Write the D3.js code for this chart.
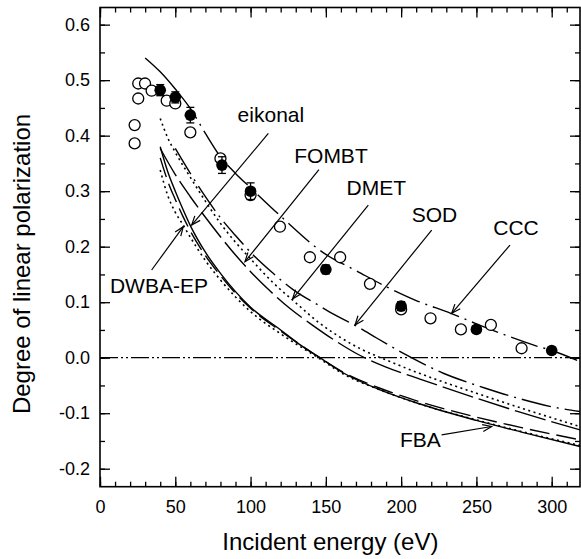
<!DOCTYPE html>
<html lang="en">
<head>
<meta charset="utf-8">
<title>Degree of linear polarization</title>
<script src="https://d3js.org/d3.v7.min.js"></script>
<style>
  body { margin: 0; background: #fff; }
  text { font-family: "Liberation Sans", Arial, Helvetica, sans-serif; fill: #000; }
</style>
</head>
<body>
<div id="chart"></div>
<script>
  // tick values
  var energyTicks = [0, 50, 100, 150, 200, 250, 300];
  var energyMinor = d3.range(0, 320, 10);
  var polTicks = [-0.2, -0.1, 0.0, 0.1, 0.2, 0.3, 0.4, 0.5, 0.6];
  var polMinor = [-0.2, -0.15, -0.1, -0.05, 0, 0.05, 0.1, 0.15, 0.2, 0.25, 0.3, 0.35, 0.4, 0.45, 0.5, 0.55, 0.6];

  // measurements, open circles
  var openE = [23, 23, 25.4, 25.4, 29.9, 34.3, 44.3, 50, 60, 80, 100, 119.5, 139.4, 159.5, 179.3, 200, 219.5, 239.7, 259.6, 280];
  var openP = [0.386, 0.419, 0.467, 0.494, 0.494, 0.481, 0.463, 0.458, 0.406, 0.359, 0.293, 0.236, 0.181, 0.181, 0.133, 0.087, 0.071, 0.051, 0.059, 0.017];

  // measurements, filled circles with error bars
  var filledE = [40, 50, 60, 81, 100, 150, 200, 250, 300];
  var filledP = [0.482, 0.469, 0.437, 0.347, 0.300, 0.159, 0.093, 0.051, 0.013];
  var filledErr = [0.010, 0.010, 0.014, 0.015, 0.015, 0.008, 0.008, 0.006, 0.006];

  // theory curves
  var cccE = [30, 40, 50, 60, 70, 80, 90, 100, 120, 150, 170, 190, 210, 233, 250, 270, 290, 300, 318.8];
  var cccP = [0.540, 0.515, 0.484, 0.449, 0.404, 0.362, 0.332, 0.306, 0.255, 0.186, 0.157, 0.128, 0.103, 0.080, 0.061, 0.040, 0.021, 0.013, -0.007];

  var sodE = [50, 60, 70, 80, 90, 100, 115, 128, 146, 156, 173, 184, 200, 217, 228, 246, 256, 279, 303, 318.8];
  var sodP = [0.377, 0.332, 0.290, 0.252, 0.220, 0.190, 0.152, 0.123, 0.093, 0.077, 0.053, 0.035, 0.010, -0.014, -0.028, -0.046, -0.055, -0.074, -0.090, -0.097];

  var fombtE = [40, 45, 50, 60, 70, 80, 90, 100, 115, 130, 145, 160, 173, 190, 212, 250, 280, 318.8];
  var fombtP = [0.431, 0.396, 0.370, 0.325, 0.282, 0.242, 0.208, 0.178, 0.135, 0.099, 0.064, 0.036, 0.016, -0.004, -0.028, -0.064, -0.091, -0.124];

  var dmetE = [40, 50, 60, 70, 80, 90, 100, 113, 126, 142, 156, 170, 190, 212, 250, 280, 318.8];
  var dmetP = [0.377, 0.330, 0.290, 0.253, 0.218, 0.185, 0.155, 0.120, 0.089, 0.057, 0.031, 0.008, -0.017, -0.038, -0.073, -0.099, -0.130];

  var eikonalE = [40, 45, 50, 55, 60, 70, 80, 90, 100, 120, 133, 146, 162, 186, 212, 250, 280, 318.8];
  var eikonalP = [0.380, 0.335, 0.300, 0.268, 0.238, 0.190, 0.152, 0.119, 0.091, 0.050, 0.023, 0.000, -0.028, -0.058, -0.083, -0.113, -0.134, -0.160];

  var fbaE = [40, 45, 50, 55, 60, 70, 80, 90, 100, 120, 146, 162, 186, 212, 250, 280, 318.8];
  var fbaP = [0.360, 0.318, 0.285, 0.255, 0.228, 0.184, 0.148, 0.116, 0.089, 0.048, 0.000, -0.027, -0.055, -0.079, -0.107, -0.126, -0.148];

  var dwbaE = [40, 45, 50, 55, 60, 70, 80, 100, 120, 146, 162, 186, 212, 250, 280, 318.8];
  var dwbaP = [0.338, 0.292, 0.262, 0.240, 0.217, 0.175, 0.140, 0.083, 0.043, -0.002, -0.030, -0.058, -0.083, -0.112, -0.133, -0.158];

  // labels with arrows (data units): text anchor, arrow tail, arrow tip
  var notes = [
    ["eikonal", 91.4, 0.425, 111.8, 0.404, 60.9, 0.239],
    ["FOMBT", 129.0, 0.350, 145.4, 0.339, 96.3, 0.173],
    ["DMET", 163.8, 0.293, 178.2, 0.275, 127.9, 0.106],
    ["SOD", 207.0, 0.245, 220.3, 0.230, 169.4, 0.059],
    ["CCC", 261.2, 0.221, 272.3, 0.203, 233.6, 0.080],
    ["DWBA-EP", 6.6, 0.117, 34.3, 0.158, 55.3, 0.236],
    ["FBA", 199.2, -0.160, 226.9, -0.139, 260.1, -0.124]
  ];

  var W = 581, H = 559;
  var margin = {left: 100, top: 7.5};
  var w = 480, h = 479.2;

  var svg = d3.select("#chart").append("svg").attr("width", W).attr("height", H);
  var defs = svg.append("defs");
  defs.append("marker").attr("id", "arr")
    .attr("markerUnits", "userSpaceOnUse")
    .attr("viewBox", "-10 -5 12 10").attr("refX", 0).attr("refY", 0)
    .attr("markerWidth", 12).attr("markerHeight", 10).attr("orient", "auto")
    .append("path").attr("d", "M-9,-3.5L0,0L-9,3.5")
    .attr("fill", "none").attr("stroke", "#000").attr("stroke-width", 1.2);

  var g = svg.append("g").attr("transform", "translate(" + margin.left + "," + margin.top + ")");

  var x = d3.scaleLinear().domain([0, 318.8]).range([0, w]);
  var y = d3.scaleLinear().domain([-0.2324, 0.6309]).range([h, 0]);

  // axes: ticks point inward
  function styleAxis(sel) {
    sel.select(".domain").remove();
    sel.selectAll(".tick line").attr("stroke", "#000").attr("stroke-width", 1.3);
    sel.selectAll("text").style("font-family", '"Liberation Sans", Arial, sans-serif').attr("font-size", 18);
  }
  g.append("g").attr("transform", "translate(0," + h + ")")
    .call(d3.axisBottom(x).tickValues(energyTicks).tickSize(-10).tickPadding(13.5).tickFormat(d3.format("d")))
    .call(styleAxis);
  g.append("g").attr("transform", "translate(0," + h + ")")
    .call(d3.axisBottom(x).tickValues(energyMinor).tickSize(-5).tickFormat(""))
    .call(styleAxis);
  g.append("g")
    .call(d3.axisTop(x).tickValues(energyTicks).tickSize(-10).tickFormat(""))
    .call(styleAxis);
  g.append("g")
    .call(d3.axisTop(x).tickValues(energyMinor).tickSize(-5).tickFormat(""))
    .call(styleAxis);
  g.append("g")
    .call(d3.axisLeft(y).tickValues(polTicks).tickSize(-10).tickPadding(10).tickFormat(d3.format(".1f")))
    .call(styleAxis);
  g.append("g")
    .call(d3.axisLeft(y).tickValues(polMinor).tickSize(-5).tickFormat(""))
    .call(styleAxis);
  g.append("g").attr("transform", "translate(" + w + ",0)")
    .call(d3.axisRight(y).tickValues(polTicks).tickSize(-10).tickFormat(""))
    .call(styleAxis);
  g.append("g").attr("transform", "translate(" + w + ",0)")
    .call(d3.axisRight(y).tickValues(polMinor).tickSize(-5).tickFormat(""))
    .call(styleAxis);

  g.selectAll("g .tick text").text(function () {
    var t = d3.select(this).text();
    return t.replace("\u2212", "-");
  });

  g.append("rect").attr("width", w).attr("height", h)
    .attr("fill", "none").attr("stroke", "#000").attr("stroke-width", 1.6);

  // zero line
  g.append("line").attr("x1", 0).attr("x2", w).attr("y1", y(0)).attr("y2", y(0))
    .attr("stroke", "#000").attr("stroke-width", 1.3).attr("stroke-dasharray", "18,3,2,3,2,3");

  var line = d3.line().x(function (d) { return x(d[0]); }).y(function (d) { return y(d[1]); })
    .curve(d3.curveMonotoneX);

  function pairs(es, ps) { return es.map(function (e, i) { return [e, ps[i]]; }); }

  var cccDash = [80, 6, 2, 6];
  for (var k = 0; k < 40; k++) cccDash = cccDash.concat([28, 6, 2, 6]);

  var curves = [
    [pairs(eikonalE, eikonalP), null, 1.4],
    [pairs(fbaE, fbaP), "20,7", 1.4],
    [pairs(dwbaE, dwbaP), "2,3.5", 1.6],
    [pairs(dmetE, dmetP), "32,6", 1.4],
    [pairs(fombtE, fombtP), "2,3.5", 1.6],
    [pairs(sodE, sodP), "30,6,2,6", 1.4],
    [pairs(cccE, cccP), cccDash.join(","), 1.4]
  ];
  curves.forEach(function (c) {
    g.append("path").datum(c[0]).attr("d", line)
      .attr("fill", "none").attr("stroke", "#000").attr("stroke-width", c[2])
      .attr("stroke-dasharray", c[1]);
  });

  // open circles
  g.selectAll(".open").data(pairs(openE, openP)).enter().append("circle")
    .attr("cx", function (d) { return x(d[0]); }).attr("cy", function (d) { return y(d[1]); })
    .attr("r", 5.5).attr("fill", "#fff").attr("stroke", "#000").attr("stroke-width", 1.3);

  // filled circles with error bars
  var filled = filledE.map(function (e, i) { return [e, filledP[i], filledErr[i]]; });
  var eb = g.selectAll(".eb").data(filled).enter().append("g");
  eb.append("line")
    .attr("x1", function (d) { return x(d[0]); }).attr("x2", function (d) { return x(d[0]); })
    .attr("y1", function (d) { return y(d[1] - d[2]); }).attr("y2", function (d) { return y(d[1] + d[2]); })
    .attr("stroke", "#000").attr("stroke-width", 1.3);
  [-1, 1].forEach(function (s) {
    eb.append("line")
      .attr("x1", function (d) { return x(d[0]) - 4; }).attr("x2", function (d) { return x(d[0]) + 4; })
      .attr("y1", function (d) { return y(d[1] + s * d[2]); }).attr("y2", function (d) { return y(d[1] + s * d[2]); })
      .attr("stroke", "#000").attr("stroke-width", 1.3);
  });
  eb.append("circle")
    .attr("cx", function (d) { return x(d[0]); }).attr("cy", function (d) { return y(d[1]); })
    .attr("r", 5.8).attr("fill", "#000");

  // labels and arrows
  notes.forEach(function (n) {
    g.append("text").attr("x", x(n[1])).attr("y", y(n[2])).attr("font-size", 21).text(n[0]);
    g.append("line").attr("x1", x(n[3])).attr("y1", y(n[4])).attr("x2", x(n[5])).attr("y2", y(n[6]))
      .attr("stroke", "#000").attr("stroke-width", 1.2).attr("marker-end", "url(#arr)");
  });

  // axis titles
  svg.append("text").attr("x", margin.left + x(153)).attr("y", 550)
    .attr("text-anchor", "middle").attr("font-size", 24).text("Incident energy (eV)");
  svg.append("text").attr("transform", "translate(30," + 264 + ") rotate(-90)")
    .attr("text-anchor", "middle").attr("font-size", 24).text("Degree of linear polarization");
</script>
</body>
</html>
